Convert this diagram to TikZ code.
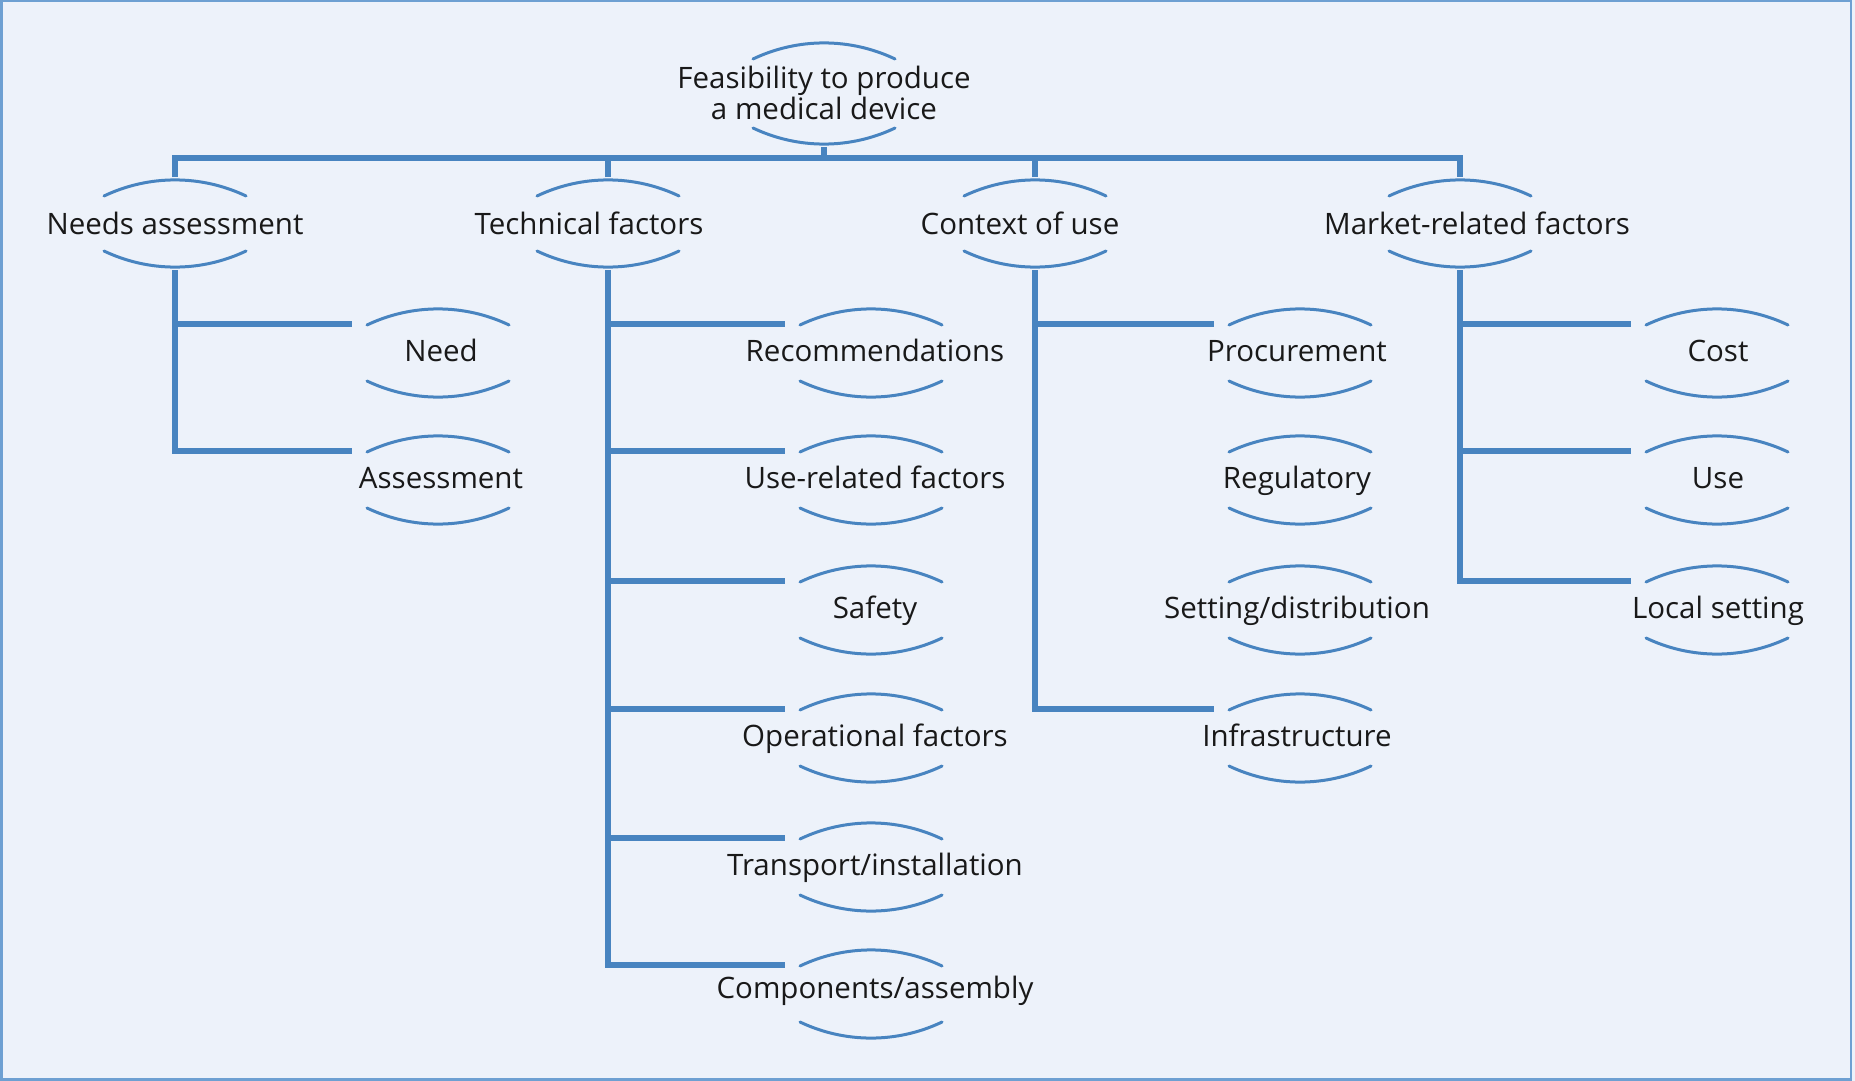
\documentclass[tikz,border=0pt]{standalone}
\usepackage{fontspec}
\setmainfont{Open Sans}
\usepackage{tikz}
\usetikzlibrary{calc}

\definecolor{linkblue}{RGB}{72,132,192}
\definecolor{paleblue}{RGB}{237,242,250}
\definecolor{frameblue}{RGB}{110,160,210}

% two arcs round a label: name, centre, half height, text shift, text
\newcommand\lens[5]{%
    \coordinate (#1-c) at (#2);
    \coordinate (#1-t) at ($(#1-c)+(0,#3+3)$);
    \coordinate (#1-b) at ($(#1-c)+(0,-#3-3)$);
    \coordinate (#1-in) at ($(#1-c)+(-86,29)$);
    \draw[arcline] ($(#1-c)+(-71,#3-16)$) arc[start angle=115.5, end angle=64.5, radius=165pt];
    \draw[arcline] ($(#1-c)+(-71,16-#3)$) arc[start angle=244.5, end angle=295.5, radius=165pt];
    \node[lbl] (#1) at ($(#1-c)+(#4)$) {#5};
}

\begin{document}
\begin{tikzpicture}[x=1pt, y=1pt,
    arcline/.style={draw=linkblue, line width=3pt, line cap=round},
    link/.style={draw=linkblue, line width=5.5pt},
    lbl/.style={font=\fontsize{29.5}{31}\selectfont, text=black!90, inner sep=0pt, anchor=base, align=center}]
    \useasboundingbox (0,0) rectangle (1855,-1081);
    \fill[paleblue] (0,0) rectangle (1855,-1081);
    \draw[frameblue, line width=2.5pt] (1.25,-1.25) rectangle (1851,-1079.5);

    % top
    \lens{feas}{824,-93.5}{50.5}{0,-25.5}{Feasibility to produce\\a medical device}
    \coordinate (bus) at (0,-158);

    % first row
    \lens{needs}{175,-223.5}{43.5}{0,-10.5}{Needs assessment}
    \lens{tech}{608,-223.5}{43.5}{-19,-10.5}{Technical factors}
    \lens{ctx}{1035,-223.5}{43.5}{-15,-10.5}{Context of use}
    \lens{market}{1460,-223.5}{43.5}{17,-10.5}{Market-related factors}

    % second row
    \lens{need}{438,-353}{44}{3,-8.5}{Need}
    \lens{assess}{438,-480}{44}{3,-8.5}{Assessment}

    \lens{recom}{871,-353}{44}{4,-8.5}{Recommendations}
    \lens{userel}{871,-480}{44}{4,-8.5}{Use-related factors}
    \lens{safety}{871,-610}{44}{4,-8.5}{Safety}
    \lens{oper}{871,-738}{44}{4,-8.5}{Operational factors}
    \lens{transp}{871,-867}{44}{4,-8.5}{Transport/installation}
    \lens{comp}{871,-994}{44}{4,-4.5}{Components/assembly}

    \lens{procure}{1300,-353}{44}{-3,-8.5}{Procurement}
    \lens{regul}{1300,-480}{44}{-3,-8.5}{Regulatory}
    \lens{setting}{1300,-610}{44}{-3,-8.5}{Setting/distribution}
    \lens{infra}{1300,-738}{44}{-3,-8.5}{Infrastructure}

    \lens{cost}{1717,-353}{44}{1,-8.5}{Cost}
    \lens{use}{1717,-480}{44}{1,-8.5}{Use}
    \lens{local}{1717,-610}{44}{1,-8.5}{Local setting}

    % tree lines
    \draw[link] (feas-b) -- (feas-b |- bus);
    \draw[link] (needs-t) -- (needs-t |- bus) -- (market-t |- bus) -- (market-t);
    \foreach \n in {tech,ctx}
        \draw[link] (\n-t) -- (\n-t |- bus);

    \draw[link] (needs-b) |- (assess-in);
    \draw[link] (needs-b |- need-in) -- (need-in);

    \draw[link] (tech-b) |- (comp-in);
    \foreach \n in {recom,userel,safety,oper,transp}
        \draw[link] (tech-b |- \n-in) -- (\n-in);

    \draw[link] (ctx-b) |- (infra-in);
    \draw[link] (ctx-b |- procure-in) -- (procure-in);

    \draw[link] (market-b) |- (local-in);
    \foreach \n in {cost,use}
        \draw[link] (market-b |- \n-in) -- (\n-in);
\end{tikzpicture}
\end{document}
